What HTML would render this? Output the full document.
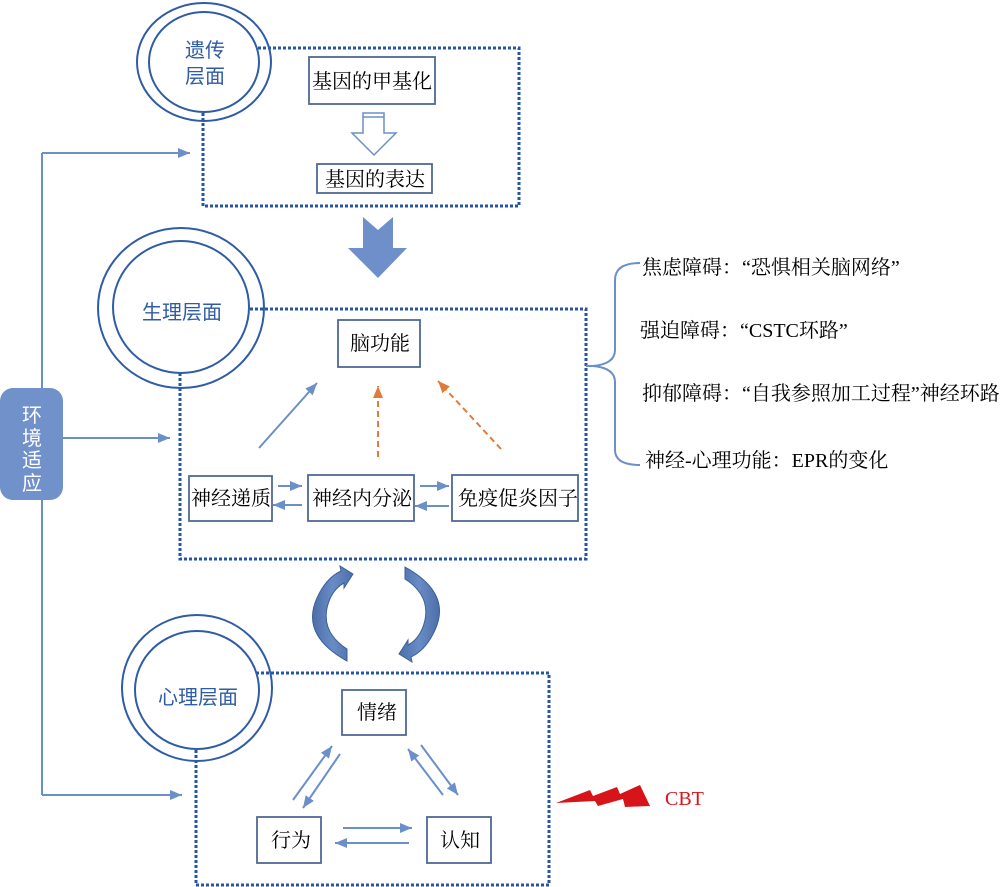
<!DOCTYPE html>
<html><head><meta charset="utf-8"><style>
html,body{margin:0;padding:0;background:#fff;}
svg{display:block;}
.bk{font-family:"Liberation Serif","Noto Serif CJK SC",serif;font-size:20px;fill:#000;}
.bl{font-family:"Liberation Sans","Noto Sans CJK SC",sans-serif;font-size:20px;fill:#2f5ca6;}
.wh{font-family:"Liberation Sans","Noto Sans CJK SC",sans-serif;font-size:20px;fill:#fff;}
</style></head><body>
<svg width="1000" height="887" viewBox="0 0 1000 887" xmlns="http://www.w3.org/2000/svg">
<defs>
<marker id="ab" viewBox="0 0 12 10" refX="12" refY="5" markerWidth="12" markerHeight="11" markerUnits="userSpaceOnUse" orient="auto"><path d="M0 0 L12 5 L0 10 Z" fill="#6b8fc9"/></marker>
<marker id="ao" viewBox="0 0 12 10" refX="12" refY="5" markerWidth="12" markerHeight="11" markerUnits="userSpaceOnUse" orient="auto"><path d="M0 0 L12 5 L0 10 Z" fill="#e07b39"/></marker>
<linearGradient id="cg" x1="0" y1="0" x2="1" y2="0"><stop offset="0" stop-color="#4d6fa8"/><stop offset="0.5" stop-color="#6a8cc6"/><stop offset="1" stop-color="#4d6fa8"/></linearGradient>
</defs>

<!-- environment -->
<g stroke="#6b8fc9" stroke-width="2" fill="none">
<line x1="42" y1="153" x2="42" y2="795"/>
<line x1="42" y1="153" x2="190" y2="153" marker-end="url(#ab)"/>
<line x1="63" y1="438" x2="170" y2="438" marker-end="url(#ab)"/>
<line x1="42" y1="795" x2="182" y2="795" marker-end="url(#ab)"/>
</g>
<rect x="0" y="388" width="63" height="112" rx="13" fill="#7191cb"/>
<text class="wh" x="32" y="422" text-anchor="middle">环</text>
<text class="wh" x="32" y="445" text-anchor="middle">境</text>
<text class="wh" x="32" y="467" text-anchor="middle">适</text>
<text class="wh" x="32" y="490" text-anchor="middle">应</text>

<!-- dotted rects -->
<g stroke="#2556a6" stroke-width="3" fill="none" stroke-dasharray="3 2">
<rect x="203" y="48" width="316" height="158"/>
<rect x="180" y="309" width="406" height="250"/>
<rect x="196" y="673" width="353" height="212"/>
</g>

<!-- circles -->
<g stroke="#2f5ca6" stroke-width="2">
<ellipse cx="204" cy="62" rx="67" ry="59" fill="none"/>
<ellipse cx="204" cy="62" rx="55" ry="50" fill="#fff"/>
<ellipse cx="181" cy="308" rx="83" ry="80" fill="none"/>
<ellipse cx="181" cy="307" rx="68" ry="66" fill="#fff"/>
<ellipse cx="197" cy="688" rx="75" ry="73" fill="none"/>
<ellipse cx="197" cy="690" rx="62" ry="59" fill="#fff"/>
</g>
<text class="bl" x="205" y="57" text-anchor="middle">遗传</text>
<text class="bl" x="205" y="83" text-anchor="middle">层面</text>
<text class="bl" x="182" y="319" text-anchor="middle">生理层面</text>
<text class="bl" x="198" y="704" text-anchor="middle">心理层面</text>

<!-- boxes -->
<g stroke="#4f6a96" stroke-width="1.8" fill="#fff">
<rect x="309" y="57" width="126" height="47"/>
<rect x="317" y="164" width="115" height="29"/>
<rect x="338" y="320" width="82" height="47"/>
<rect x="189" y="476" width="83" height="45"/>
<rect x="308" y="475" width="106" height="46"/>
<rect x="452" y="475" width="126" height="46"/>
<rect x="342" y="690" width="64" height="45"/>
<rect x="257" y="817" width="64" height="46"/>
<rect x="427" y="817" width="64" height="46"/>
</g>
<text class="bk" x="372" y="88" text-anchor="middle">基因的甲基化</text>
<text class="bk" x="375" y="186" text-anchor="middle">基因的表达</text>
<text class="bk" x="380" y="350" text-anchor="middle">脑功能</text>
<text class="bk" x="231" y="505" text-anchor="middle">神经递质</text>
<text class="bk" x="362" y="505" text-anchor="middle">神经内分泌</text>
<text class="bk" x="518" y="505" text-anchor="middle">免疫促炎因子</text>
<text class="bk" x="377" y="719" text-anchor="middle">情绪</text>
<text class="bk" x="291" y="847" text-anchor="middle">行为</text>
<text class="bk" x="460" y="847" text-anchor="middle">认知</text>

<!-- hollow arrow -->
<path d="M363 113 L384 113 L384 133 L396 133 L374 155 L352 133 L363 133 Z" fill="#fff" stroke="#6b8fc9" stroke-width="1.5"/>
<line x1="363" y1="117" x2="384" y2="117" stroke="#6b8fc9" stroke-width="1.5"/>

<!-- big arrow -->
<path d="M363 217 L378 230 L393 217 L393 248 L407 248 L378 278 L348 248 L363 248 Z" fill="#6f8fcb"/>

<!-- physiological arrows -->
<g stroke="#6b8fc9" stroke-width="2" fill="none">
<line x1="259" y1="448" x2="317" y2="383" marker-end="url(#ab)"/>
<line x1="278" y1="486" x2="302" y2="486" marker-end="url(#ab)"/>
<line x1="302" y1="505" x2="273" y2="505" marker-end="url(#ab)"/>
<line x1="420" y1="486" x2="449" y2="486" marker-end="url(#ab)"/>
<line x1="449" y1="506" x2="415" y2="506" marker-end="url(#ab)"/>
</g>
<g stroke="#e07b39" stroke-width="2" fill="none" stroke-dasharray="6 4">
<line x1="378" y1="457" x2="378" y2="386" marker-end="url(#ao)"/>
<line x1="501" y1="449" x2="438" y2="381" marker-end="url(#ao)"/>
</g>

<!-- psych arrows -->
<g stroke="#6b8fc9" stroke-width="2" fill="none">
<line x1="293" y1="800" x2="332" y2="746" marker-end="url(#ab)"/>
<line x1="340" y1="754" x2="303" y2="808" marker-end="url(#ab)"/>
<line x1="443" y1="795" x2="408" y2="749" marker-end="url(#ab)"/>
<line x1="421" y1="745" x2="458" y2="795" marker-end="url(#ab)"/>
<line x1="343" y1="828" x2="412" y2="828" marker-end="url(#ab)"/>
<line x1="409" y1="843" x2="335" y2="843" marker-end="url(#ab)"/>
</g>

<!-- curved arrows -->
<path d="M347 661 Q 300 635 317 598 Q 326 578 341 571 L 340 566 L 353 574 L 344 588 L 344 583 Q 331 590 327 608 Q 322 633 347 649 Z" fill="url(#cg)" stroke="#3d5f9a" stroke-width="1"/>
<g transform="rotate(180 376 614)">
<path d="M347 661 Q 300 635 317 598 Q 326 578 341 571 L 340 566 L 353 574 L 344 588 L 344 583 Q 331 590 327 608 Q 322 633 347 649 Z" fill="url(#cg)" stroke="#3d5f9a" stroke-width="1"/>
</g>

<!-- brace -->
<path d="M640 263 Q 615 263 615 280 L 615 350 Q 615 364 593 366 Q 615 368 615 382 L 615 450 Q 615 465 640 465" fill="none" stroke="#6b8fc9" stroke-width="2"/>
<line x1="586" y1="366" x2="594" y2="366" stroke="#6b8fc9" stroke-width="2"/>
<text class="bk" x="642" y="274">焦虑障碍：“恐惧相关脑网络”</text>
<text class="bk" x="640" y="337">强迫障碍：“CSTC环路”</text>
<text class="bk" x="642" y="400">抑郁障碍：“自我参照加工过程”神经环路</text>
<text class="bk" x="645" y="467">神经-心理功能：EPR的变化</text>

<!-- CBT lightning -->
<path d="M556 803 L590 790 L593 796 L617 787 L620 794 L640 785 L650 806 L625 807 L623 799 L598 806 L595 801 Z" fill="#d7141a"/>
<text x="665" y="805" font-family="Liberation Serif, serif" font-size="20" fill="#d7141a">CBT</text>
</svg>
</body></html>
